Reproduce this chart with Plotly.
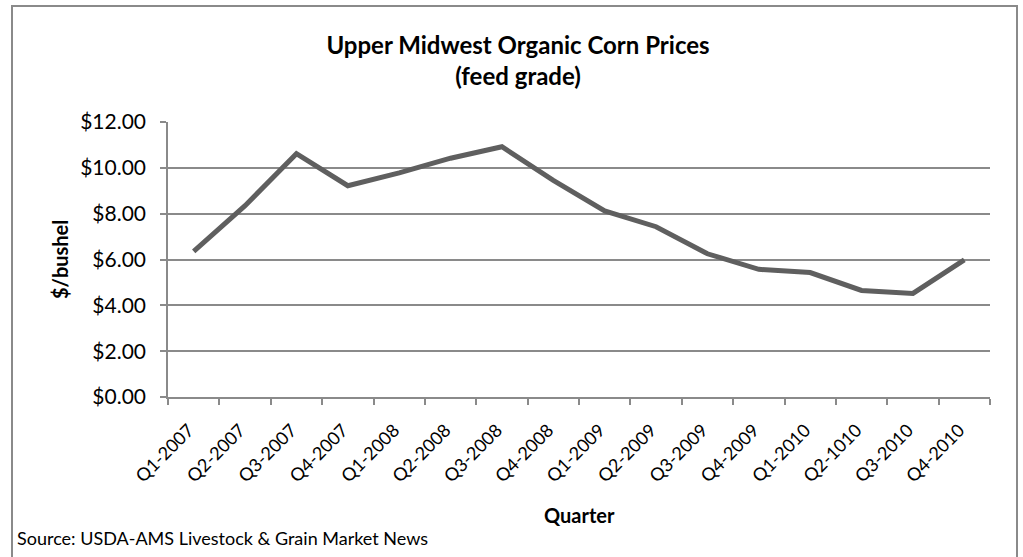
import plotly.graph_objects as go

quarters = ["Q1-2007", "Q2-2007", "Q3-2007", "Q4-2007",
            "Q1-2008", "Q2-2008", "Q3-2008", "Q4-2008",
            "Q1-2009", "Q2-2009", "Q3-2009", "Q4-2009",
            "Q1-2010", "Q2-1010", "Q3-2010", "Q4-2010"]
prices = [6.35, 8.35, 10.62, 9.22, 9.78, 10.42, 10.92, 9.45,
          8.12, 7.43, 6.25, 5.57, 5.43, 4.65, 4.52, 5.98]
y_ticks = [0, 2, 4, 6, 8, 10, 12]
y_labels = ["$%.2f" % v for v in y_ticks]

W, H = 1023, 557
L, R, T, B = 168, 33, 122, 160
pw, ph = W - L - R, H - T - B


def px_to_paper_x(px):
    return (px - L) / pw


def px_to_paper_y(py):
    return (H - B - py) / ph


grey = "#8a8a8a"
font = "Lato, 'Open Sans', sans-serif"

fig = go.Figure()
fig.add_trace(go.Scatter(
    x=quarters, y=prices, mode="lines",
    line=dict(color="#5f5f5f", width=5),
    hoverinfo="x+y",
))

fig.update_layout(
    width=W, height=H,
    margin=dict(l=L, r=R, t=T, b=B),
    paper_bgcolor="white", plot_bgcolor="white",
    showlegend=False,
    font=dict(family=font, color="black"),
    title=dict(
        text="<b>Upper Midwest Organic Corn Prices<br>(feed grade)</b>",
        x=518 / W, xanchor="center",
        y=1 - 54 / H, yanchor="middle",
        font=dict(size=24, family=font),
    ),
)

fig.update_xaxes(
    type="category",
    range=[-0.5, len(quarters) - 0.5],
    tickangle=-45,
    tickfont=dict(size=18),
    ticklabelshift=-5, ticklabelstandoff=14,
    showline=True, linecolor=grey, linewidth=1.5,
    ticks="outside", tickson="boundaries", ticklen=6, tickcolor=grey, tickwidth=1.5,
    showgrid=False,
)
fig.update_yaxes(
    range=[0, 12],
    tickvals=y_ticks, ticktext=y_labels,
    tickfont=dict(size=21),
    ticklabelstandoff=10,
    showline=True, linecolor=grey, linewidth=1.5,
    ticks="outside", ticklen=6, tickcolor=grey, tickwidth=1.5,
    showgrid=True, gridcolor=grey, gridwidth=1.5,
    zeroline=False,
)

# axis titles
fig.add_annotation(text="<b>Quarter</b>", xref="paper", yref="paper",
                   x=0.5, y=px_to_paper_y(515), xanchor="center", yanchor="middle",
                   showarrow=False, font=dict(size=20, family=font))
fig.add_annotation(text="<b>$/bushel</b>", xref="paper", yref="paper",
                   x=px_to_paper_x(60), y=px_to_paper_y(260), xanchor="center", yanchor="middle",
                   textangle=-90, showarrow=False, font=dict(size=20, family=font))

# outer chart border (no bottom edge visible)
x0, x1 = px_to_paper_x(12), px_to_paper_x(1017)
y0, y1 = px_to_paper_y(H + 5), px_to_paper_y(6)
fig.add_shape(type="path", xref="paper", yref="paper",
              path=f"M {x0} {y0} L {x0} {y1} L {x1} {y1} L {x1} {y0}",
              line=dict(color=grey, width=2))

fig.add_annotation(
    text="Source: USDA-AMS Livestock & Grain Market News",
    xref="paper", yref="paper",
    x=px_to_paper_x(15), y=px_to_paper_y(538),
    xanchor="left", yanchor="middle", showarrow=False,
    font=dict(size=18, family=font),
)

fig.write_html("out.html", config={"displayModeBar": False},
               post_script="document.body.style.margin='0';")
